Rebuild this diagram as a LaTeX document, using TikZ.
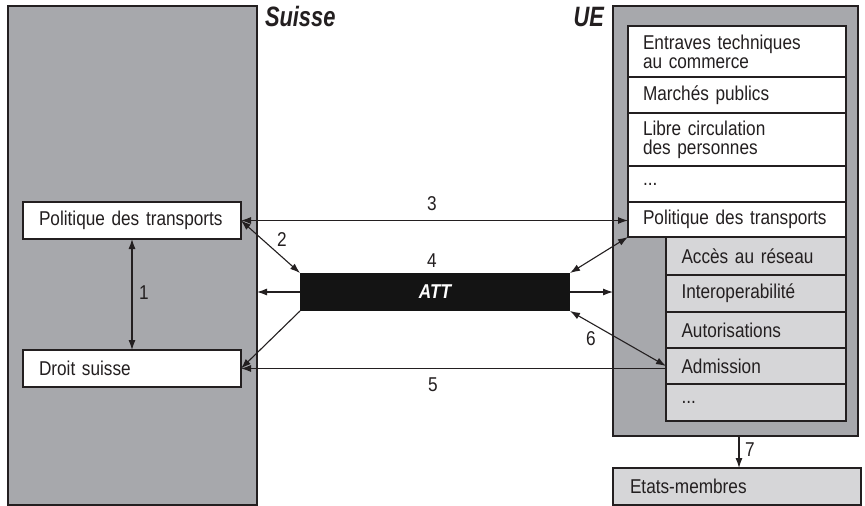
\documentclass[tikz,border=0pt]{standalone}
\usepackage{fontspec}
\setmainfont[FakeStretch=0.86]{Liberation Sans}
\newfontfamily\headfont[FakeStretch=0.78]{Liberation Sans}
\usetikzlibrary{arrows.meta,calc}
\definecolor{dkgray}{HTML}{A7A8AC}
\definecolor{ltgray}{HTML}{D6D6D8}
\definecolor{ink}{HTML}{231F20}
\begin{document}
\begin{tikzpicture}[x=1pt,y=-1pt,
  every node/.style={inner sep=0pt, outer sep=0pt, text=ink, font=\fontsize{20}{19}\selectfont},
  bigbox/.style={draw=ink, line width=1.3pt, fill=dkgray, anchor=north west},
  itembox/.style={draw=ink, line width=1.1pt, fill=white, anchor=north west,
    minimum width=218pt, text width=188pt, inner xsep=15pt, align=left},
  subbox/.style={draw=ink, line width=1.1pt, fill=ltgray, anchor=north west,
    minimum width=180pt, text width=149pt, inner xsep=15.5pt, align=left},
  lbl/.style={text=ink},
  head/.style={font=\headfont\fontsize{28}{28}\selectfont\bfseries\itshape},
  arr/.style={draw=ink, line width=1.1pt, -{Latex[length=10pt,width=7pt]}},
  arrboth/.style={draw=ink, line width=1.1pt, {Latex[length=10pt,width=7pt]}-{Latex[length=10pt,width=7pt]}}
]
\path[use as bounding box, fill=white] (0,0) rectangle (865,506);

% big boxes
\node[bigbox, minimum width=249pt, minimum height=499pt] (ch) at (8,6) {};
\node[bigbox, minimum width=245pt, minimum height=430pt] (ue) at (613,6) {};

% headings
\node[head, anchor=base west] (suisseT) at (265,27) {Suisse};
\node[head, anchor=base east] (ueT) at (604,27) {UE};

% EU domains
\node[itembox, minimum height=51pt] (entraves) at (628,26) {Entraves techniques\\au commerce};
\node[itembox, minimum height=36pt] (marches) at (628,77) {Marchés publics};
\node[itembox, minimum height=53pt] (libre) at (628,113) {Libre circulation\\des personnes};
\node[itembox, minimum height=36pt] (dotsA) at (628,166) {...};
\node[itembox, minimum height=35pt] (polue) at (628,202) {Politique des transports};

\node[subbox, minimum height=38pt] (acces) at (666,237) {Accès au réseau};
\node[subbox, minimum height=37pt] (interop) at (666,275) {Interoperabilité};
\node[subbox, minimum height=36pt] (autor) at (666,312) {Autorisations};
\node[subbox, minimum height=36pt] (admis) at (666,348) {Admission};
\node[subbox, minimum height=37pt] (dotsB) at (666,384) {...};

\node[subbox, minimum width=248pt, text width=214pt, inner xsep=17pt, minimum height=37pt] (etats) at (613,468) {Etats-membres};

% Swiss boxes
\node[itembox, inner xsep=16pt, text width=186pt, minimum height=37pt] (polch) at (23,202) {Politique des transports};
\node[itembox, inner xsep=16pt, text width=186pt, minimum height=37pt] (droit) at (23,350) {Droit suisse};

% ATT
\node[fill=black!92, anchor=north west, minimum width=270pt, minimum height=38pt,
  text=white, font=\fontsize{20}{18}\selectfont\bfseries\itshape] (att) at (300,273) {ATT};

% connectors
\draw[arrboth] (polch.south) -- (droit.north);
\draw[arrboth] (polch.east) -- (polch.east -| polue.west);
\draw[arrboth] (polch.east) -- (att.north west);
\draw[arr] (att.west) -- (att.west -| ch.east);
\draw[arr] (att.east) -- (att.east -| ue.west);
\draw[arrboth] (att.north east) -- (polue.south west);
\draw[arr] (att.south west) -- (droit.east);
\draw[arrboth] (admis.west) -- (att.south east);
\draw[arr] (droit.east -| admis.west) -- (droit.east);
\coordinate (u7) at ($(ue.south)+(3.5,0)$);
\draw[arr] (u7) -- (u7 |- etats.north);

% labels
\node[lbl] (l1) at (144,293) {1};
\node[lbl] (l2) at (282,240) {2};
\node[lbl] (l3) at (432,204) {3};
\node[lbl] (l4) at (432,261) {4};
\node[lbl] (l5) at (433,385) {5};
\node[lbl] (l6) at (591,339) {6};
\node[lbl] (l7) at (750,450) {7};
\end{tikzpicture}
\end{document}
